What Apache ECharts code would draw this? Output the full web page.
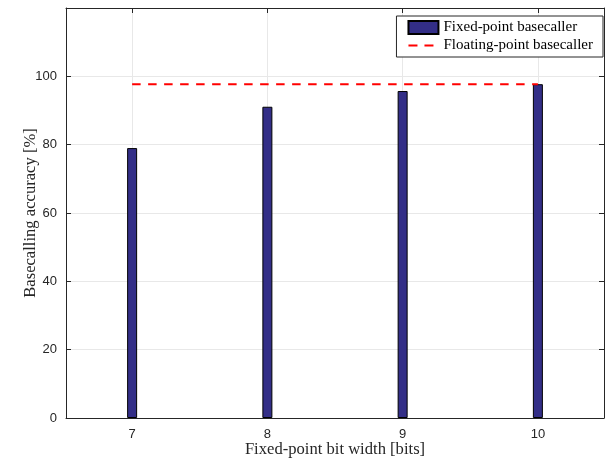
<!DOCTYPE html>
<html>
<head>
<meta charset="utf-8">
<script src="https://cdn.jsdelivr.net/npm/echarts@6/dist/echarts.min.js"></script>
<style>html,body{margin:0;padding:0;background:#fff}#c{width:609px;height:460px}</style>
</head>
<body>
<div id="c"></div>
<script>
const categories = ['7', '8', '9', '10'];
const fixedPoint = [79.0, 91.1, 95.7, 97.7];
const floatingPoint = [97.7, 97.7, 97.7, 97.7];
const yTicks = [0, 20, 40, 60, 80, 100];

const axisColor = '#262626';
const gridColor = '#e8e8e8';
const serif = 'Liberation Serif';
const sans = 'Liberation Sans';

const chart = echarts.init(document.getElementById('c'), null, {renderer: 'canvas'});
chart.setOption({
  animation: false,
  backgroundColor: '#fff',
  grid: [
    {left: 64.5, right: 3.5, top: 8, bottom: 42, containLabel: false, outerBoundsMode: 'none'},
    {left: 66, right: 5, top: 8, bottom: 42, containLabel: false, outerBoundsMode: 'none'}
  ],
  legend: {
    right: 6, top: 16, orient: 'vertical',
    backgroundColor: '#fff', borderColor: axisColor, borderWidth: 1,
    padding: [4, 10, 4, 11], itemGap: 3,
    itemWidth: 30, itemHeight: 13,
    textStyle: {fontFamily: serif, fontSize: 15, color: '#000'},
    data: [
      {name: 'Fixed-point basecaller', icon: 'rect'},
      {name: 'Floating-point basecaller',
       itemStyle: {color: 'rgba(0,0,0,0)', borderColor: 'rgba(0,0,0,0)', borderWidth: 0},
       lineStyle: {color: '#ff0000', width: 2, type: [9, 7]}}
    ]
  },
  xAxis: [{
    gridIndex: 0, type: 'category', data: categories, boundaryGap: true,
    name: 'Fixed-point bit width [bits]', nameLocation: 'middle', nameGap: 23,
    nameMoveOverlap: false,
    nameTextStyle: {fontFamily: serif, fontSize: 16.6, color: axisColor},
    axisLine: {show: false},
    axisTick: {show: true, inside: true, alignWithLabel: true, length: 5, lineStyle: {color: axisColor}},
    axisLabel: {fontFamily: sans, fontSize: 13, color: axisColor, margin: 10},
    splitLine: {show: true, alignWithLabel: true, lineStyle: {color: gridColor}}
  }, {
    gridIndex: 0, type: 'category', data: categories, boundaryGap: true, position: 'top',
    axisLine: {show: false},
    axisTick: {show: true, inside: true, alignWithLabel: true, length: 5, lineStyle: {color: axisColor}},
    axisLabel: {show: false}, splitLine: {show: false}
  }, {
    gridIndex: 1, type: 'value', min: 0, max: 1, position: 'bottom',
    axisLine: {show: true, onZero: false, lineStyle: {color: axisColor, width: 1}},
    axisTick: {show: false}, axisLabel: {show: false}, splitLine: {show: false}
  }, {
    gridIndex: 1, type: 'value', min: 0, max: 1, position: 'top',
    axisLine: {show: true, onZero: false, lineStyle: {color: axisColor, width: 1}},
    axisTick: {show: false}, axisLabel: {show: false}, splitLine: {show: false}
  }],
  yAxis: [{
    gridIndex: 0, type: 'value', min: 0, max: 120, interval: 20, show: false
  }, {
    gridIndex: 1, type: 'value', min: 0, max: 120, interval: 20, position: 'left',
    name: 'Basecalling accuracy [%]', nameLocation: 'middle', nameGap: 27, nameRotate: 90,
    nameMoveOverlap: false,
    nameTextStyle: {fontFamily: serif, fontSize: 16.6, color: axisColor},
    axisLine: {show: true, onZero: false, lineStyle: {color: axisColor, width: 1}},
    axisTick: {show: true, inside: true, length: 5, lineStyle: {color: axisColor}},
    axisLabel: {fontFamily: sans, fontSize: 13, color: axisColor, margin: 9,
      formatter: v => yTicks.includes(v) ? String(v) : ''},
    splitLine: {show: true, lineStyle: {color: gridColor}}
  }, {
    gridIndex: 1, type: 'value', min: 0, max: 120, interval: 20, position: 'right',
    axisLine: {show: true, onZero: false, lineStyle: {color: axisColor, width: 1}},
    axisTick: {show: true, inside: true, length: 5, lineStyle: {color: axisColor}},
    axisLabel: {show: false}, splitLine: {show: false}
  }],
  series: [{
    name: 'Fixed-point basecaller', type: 'bar', data: fixedPoint, barWidth: 10,
    xAxisIndex: 0, yAxisIndex: 0, z: 3,
    itemStyle: {color: '#332e87', borderColor: '#000', borderWidth: 1}
  }, {
    name: 'Floating-point basecaller', type: 'line', data: floatingPoint,
    xAxisIndex: 0, yAxisIndex: 0, symbol: 'none', z: 5,
    lineStyle: {color: '#ff0000', width: 2, type: [8.5, 7.5]},
    itemStyle: {color: '#ff0000'}
  }]
});
</script>
</body>
</html>
